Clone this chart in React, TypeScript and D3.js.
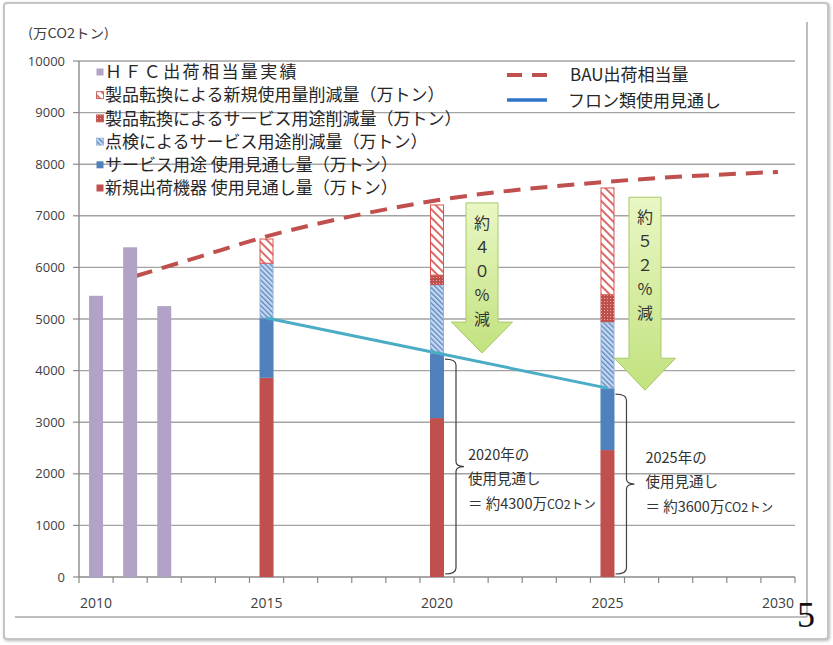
import React from "react";
import * as d3 from "d3";

const years = [2010, 2011, 2012, 2013, 2014, 2015, 2016, 2017, 2018, 2019, 2020, 2021, 2022, 2023, 2024, 2025, 2026, 2027, 2028, 2029, 2030];
const yearLabels = ["2010", "2015", "2020", "2025", "2030"];
const yTicks = [0, 1000, 2000, 3000, 4000, 5000, 6000, 7000, 8000, 9000, 10000];

const hfcYears = [2010, 2011, 2012];
const hfcActual = [5450, 6390, 5250];

const projYears = [2015, 2020, 2025];
const newEquip = [3860, 3080, 2460];
const serviceUse = [1160, 1260, 1200];
const inspectionCut = [1060, 1320, 1280];
const convServiceCut = [0, 190, 530];
const convNewCut = [470, 1360, 2070];

const bauYears = [2011, 2013, 2015, 2018, 2020, 2025, 2030];
const bauValues = [5800, 6200, 6600, 7060, 7300, 7660, 7850];

const outlookYears = [2015, 2020, 2025];
const outlookValues = [5020, 4340, 3660];

const legendLeft = [
  "ＨＦＣ出荷相当量実績",
  "製品転換による新規使用量削減量（万トン）",
  "製品転換によるサービス用途削減量（万トン）",
  "点検によるサービス用途削減量（万トン）",
  "サービス用途 使用見通し量（万トン）",
  "新規出荷機器 使用見通し量（万トン）",
];
const legendRight = ["BAU出荷相当量", "フロン類使用見通し"];

const arrows = [
  { pos: 2021.32, top: 7250, base: 4940, tip: 4340, chars: ["約", "４", "０", "％", "減"] },
  { pos: 2026.1, top: 7360, base: 4240, tip: 3620, chars: ["約", "５", "２", "％", "減"] },
];

const notes = [
  { year: 2020, value: 4340, lines: ["2020年の", "使用見通し", "＝ 約4300万", "CO2トン"], textTop: 2360, dx: 31 },
  { year: 2025, value: 3660, lines: ["2025年の", "使用見通し", "＝ 約3600万", "CO2トン"], textTop: 2300, dx: 38 },
];

const RED = "#c0504d";
const BLUE = "#4f81bd";
const PURPLE = "#b3a2c7";
const JP = "'Noto Sans CJK JP', 'Noto Sans', sans-serif";
const NUM = "'Open Sans', 'Noto Sans', sans-serif";

export default function App() {
  const W = 833, H = 645;
  const x = d3.scaleBand<string>().domain(years.map(String)).range([79, 795]).paddingInner(0).paddingOuter(0);
  const step = x.step();
  const y = d3.scaleLinear().domain([0, 10000]).range([577, 61]);
  const cx = (yr: number) => (x(String(yr)) as number) + step / 2;
  const px = (yr: number) => 79 + (yr - 2009.5) * step;
  const bw = 14;

  const bauLine = d3.line<number>().x((_, i) => cx(bauYears[i])).y((d) => y(d)).curve(d3.curveMonotoneX)(bauValues) || "";
  const outLine = d3.line<number>().x((_, i) => cx(outlookYears[i])).y((d) => y(d))(outlookValues) || "";

  const segs: { key: string; fill: string; stroke: string }[] = [
    { key: "newEquip", fill: RED, stroke: "none" },
    { key: "serviceUse", fill: BLUE, stroke: "none" },
    { key: "inspectionCut", fill: "url(#blueHatch)", stroke: "#95b3d7" },
    { key: "convServiceCut", fill: "url(#redDots)", stroke: "none" },
    { key: "convNewCut", fill: "url(#pinkHatch)", stroke: "#d9534f" },
  ];
  const seriesVals: Record<string, number[]> = { newEquip, serviceUse, inspectionCut, convServiceCut, convNewCut };

  const stacks = projYears.map((yr, i) => {
    let acc = 0;
    return segs.map((s) => {
      const v = seriesVals[s.key][i];
      const r = { yr, y0: acc, y1: acc + v, ...s };
      acc += v;
      return r;
    });
  });

  const legendMarkers = [
    { fill: PURPLE, stroke: "none" },
    { fill: "url(#pinkHatch)", stroke: RED },
    { fill: "url(#redDots)", stroke: RED },
    { fill: "url(#blueHatch)", stroke: "#95b3d7" },
    { fill: BLUE, stroke: "none" },
    { fill: RED, stroke: "none" },
  ];

  return (
    <svg width={W} height={H} style={{ position: "absolute", left: 0, top: 0, background: "#fff" }}>
      <defs>
        <pattern id="pinkHatch" patternUnits="userSpaceOnUse" width={6} height={6} patternTransform="rotate(-45)">
          <rect width={6} height={6} fill="#fff" />
          <rect x={0} width={2} height={6} fill="#dc6a66" />
        </pattern>
        <pattern id="blueHatch" patternUnits="userSpaceOnUse" width={3.6} height={3.6} patternTransform="rotate(-45)">
          <rect width={3.6} height={3.6} fill="#c6d9f0" />
          <rect x={0} width={1.3} height={3.6} fill="#5b86c0" />
        </pattern>
        <pattern id="redDots" patternUnits="userSpaceOnUse" width={3} height={3}>
          <rect width={3} height={3} fill={RED} />
          <rect x={1} y={1} width={1} height={1} fill="#eaa8a6" />
        </pattern>
        <linearGradient id="arrowGrad" x1="0" y1="0" x2="0" y2="1">
          <stop offset="0" stopColor="#e9f7c4" />
          <stop offset="1" stopColor="#c2e27e" />
        </linearGradient>
        <filter id="shadow" x="-5%" y="-5%" width="110%" height="110%">
          <feDropShadow dx="1" dy="1" stdDeviation="1.5" floodColor="#888" floodOpacity="0.6" />
        </filter>
      </defs>

      {/* slide frame */}
      <rect x={4} y={3} width={824} height={636} rx={3} fill="#fff" stroke="#c4c4c4" strokeWidth={2} filter="url(#shadow)" />
      <line x1={807} y1={22} x2={807} y2={617} stroke="#a8a8a8" strokeWidth={1.5} />
      <line x1={15} y1={617} x2={807} y2={617} stroke="#a8a8a8" strokeWidth={1.5} />

      {/* y axis title */}
      <text x={28} y={38} fontFamily={JP} fontSize={13} fill="#404040" textLength={81} lengthAdjust="spacingAndGlyphs">(万CO2トン)</text>

      {/* gridlines and y ticks */}
      {yTicks.map((t) => (
        <g key={t}>
          {t > 0 && <line x1={79} x2={795} y1={y(t)} y2={y(t)} stroke="#a3a3a3" strokeWidth={1.4} />}
          <line x1={73} x2={79} y1={y(t)} y2={y(t)} stroke="#8a8a8a" strokeWidth={1.2} />
          <text x={65} y={y(t)} dy="0.35em" textAnchor="end" fontFamily={NUM} fontSize={13} fill="#404040">{t}</text>
        </g>
      ))}
      <line x1={79} x2={79} y1={y(10000)} y2={y(0)} stroke="#8a8a8a" strokeWidth={1.4} />

      {/* x axis */}
      <line x1={79} x2={795} y1={y(0)} y2={y(0)} stroke="#8a8a8a" strokeWidth={1.4} />
      {d3.range(years.length + 1).map((i) => (
        <line key={i} x1={79 + i * step} x2={79 + i * step} y1={577} y2={583} stroke="#8a8a8a" strokeWidth={1.2} />
      ))}
      {yearLabels.map((l) => (
        <text key={l} x={cx(+l)} y={608} textAnchor="middle" fontFamily={NUM} fontSize={14} fill="#404040">{l}</text>
      ))}

      {/* BAU line */}
      <path d={bauLine} fill="none" stroke={RED} strokeWidth={4} strokeDasharray="17,10" strokeDashoffset={-6} />

      {/* HFC actual bars */}
      {hfcYears.map((yr, i) => (
        <rect key={yr} x={cx(yr) - bw / 2} y={y(hfcActual[i])} width={bw} height={y(0) - y(hfcActual[i])} fill={PURPLE} />
      ))}

      {/* stacked projection bars */}
      {stacks.map((st) =>
        st.filter((s) => s.y1 > s.y0).map((s) => (
          <rect key={s.yr + s.key} x={cx(s.yr) - bw / 2 + (s.stroke !== "none" ? 0.5 : 0)} y={y(s.y1)} width={bw - (s.stroke !== "none" ? 1 : 0)} height={y(s.y0) - y(s.y1)} fill={s.fill} stroke={s.stroke} strokeWidth={1} />
        ))
      )}

      {/* outlook line */}
      <path d={outLine} fill="none" stroke="#4bacc6" strokeWidth={3} />

      {/* arrows */}
      {arrows.map((a, i) => {
        const c = px(a.pos);
        const sw = 16, hw = 30.5;
        const pts = [
          [c - sw, y(a.top)], [c + sw, y(a.top)], [c + sw, y(a.base)], [c + hw, y(a.base)],
          [c, y(a.tip)], [c - hw, y(a.base)], [c - sw, y(a.base)],
        ].map((p) => p.join(",")).join(" ");
        return (
          <g key={i}>
            <polygon points={pts} fill="url(#arrowGrad)" stroke="#a9c86a" strokeWidth={1} />
            {a.chars.map((ch, j) => (
              <text key={j} x={c} y={y(a.top) + 20 + j * 24} dy="0.35em" textAnchor="middle" fontFamily={JP} fontSize={16} fill="#333">{ch}</text>
            ))}
          </g>
        );
      })}

      {/* brackets and notes */}
      {notes.map((n, i) => {
        const right = cx(n.year) + bw / 2;
        const x0 = right + 1, xv = right + 12, xt = right + 20;
        const top = y(n.value) + 6, bot = 574, mid = (top + bot) / 2;
        const d = `M${x0},${top} Q${xv},${top} ${xv},${top + 6} L${xv},${mid - 5} Q${xv},${mid} ${xt},${mid} Q${xv},${mid} ${xv},${mid + 5} L${xv},${bot - 6} Q${xv},${bot} ${x0},${bot}`;
        const tx = right + n.dx - 7;
        const ty = y(n.textTop);
        return (
          <g key={i}>
            <path d={d} fill="none" stroke="#404040" strokeWidth={1.2} />
            <text x={tx} y={ty} dy="0.35em" fontFamily={JP} fontSize={14.5} fill="#333">{n.lines[0]}</text>
            <text x={tx} y={ty + 24} dy="0.35em" fontFamily={JP} fontSize={14.5} fill="#333">{n.lines[1]}</text>
            <text x={tx} y={ty + 49} dy="0.35em" fontFamily={JP} fontSize={14.5} fill="#333">
              {n.lines[2]}
              <tspan fontSize={12.5}>{n.lines[3]}</tspan>
            </text>
          </g>
        );
      })}

      {/* left legend */}
      {legendLeft.map((t, i) => {
        const ly = 72 + i * 23.2;
        return (
          <g key={t}>
            <rect x={96.5} y={ly - 3.5} width={7} height={7} fill={legendMarkers[i].fill} stroke={legendMarkers[i].stroke} strokeWidth={0.8} />
            <text x={105} y={ly} dy="0.36em" fontFamily={JP} fontSize={17} fill="#262626" letterSpacing={i === 0 ? 2.4 : 0}>{t}</text>
          </g>
        );
      })}

      {/* right legend */}
      <line x1={507} x2={547} y1={75} y2={75} stroke={RED} strokeWidth={4} strokeDasharray="15,10" />
      <text x={570} y={75} dy="0.36em" fontFamily={JP} fontSize={17} fill="#262626">{legendRight[0]}</text>
      <line x1={507} x2={547} y1={100} y2={100} stroke="#2e75c8" strokeWidth={3.5} />
      <text x={568} y={101} dy="0.36em" fontFamily={JP} fontSize={17} fill="#262626">{legendRight[1]}</text>

      {/* page number */}
      <text x={797} y={627} fontFamily="'Liberation Serif', 'DejaVu Serif', serif" fontSize={36} fill="#111">5</text>
    </svg>
  );
}
